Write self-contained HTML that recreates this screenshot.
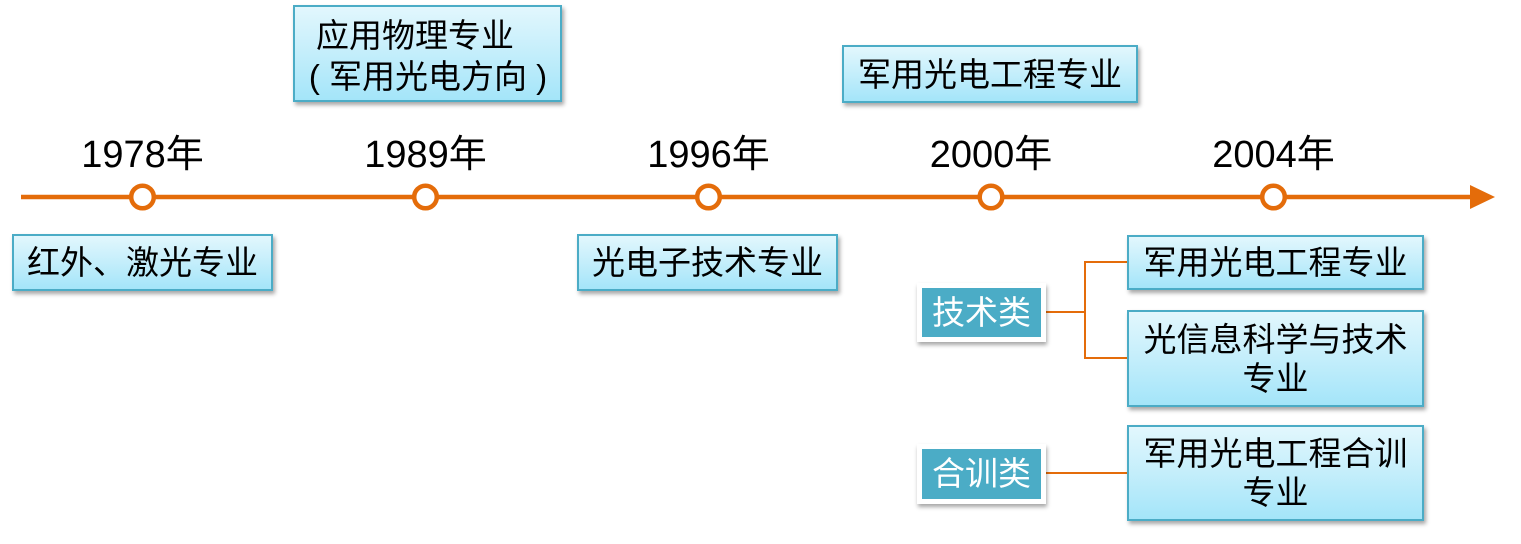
<!DOCTYPE html>
<html>
<head>
<meta charset="utf-8">
<style>
  html,body{margin:0;padding:0;background:#fff;}
  body{width:1521px;height:544px;position:relative;overflow:hidden;
    font-family:"Liberation Sans","Noto Sans CJK SC",sans-serif;color:#000;}
  svg{position:absolute;left:0;top:0;}
  .box{position:absolute;box-sizing:border-box;border:2px solid #4bacc6;
    background:linear-gradient(to bottom,#e2f7fd 0%,#c4eefb 50%,#a4e5f9 100%);
    box-shadow:2px 3px 4px rgba(0,0,0,0.35);
    display:flex;align-items:center;justify-content:center;text-align:center;
    font-size:33px;line-height:39px;}
  .yr{position:absolute;width:200px;text-align:center;font-size:38px;line-height:44px;}
  .tag{position:absolute;box-sizing:border-box;background:#4bacc6;border:5px solid #fff;
    box-shadow:1px 3px 4px rgba(0,0,0,0.35);color:#fff;font-size:33px;line-height:40px;
    display:flex;align-items:center;justify-content:center;}
  .ln{position:absolute;white-space:nowrap;font-size:33px;line-height:40px;text-align:center;}
</style>
</head>
<body>
<svg width="1521" height="544" viewBox="0 0 1521 544">
  <line x1="21" y1="197" x2="1472" y2="197" stroke="#e46c0a" stroke-width="4.5"/>
  <polygon points="1470,185 1495,197 1470,209" fill="#e46c0a"/>
  <g fill="#fff" stroke="#e46c0a" stroke-width="4.5">
    <circle cx="142.5" cy="197" r="11.3"/>
    <circle cx="425.5" cy="197" r="11.3"/>
    <circle cx="708.5" cy="197" r="11.3"/>
    <circle cx="991" cy="197" r="11.3"/>
    <circle cx="1273.5" cy="197" r="11.3"/>
  </g>
  <g stroke="#e46c0a" stroke-width="2" fill="none">
    <line x1="1044" y1="312" x2="1085" y2="312"/>
    <polyline points="1127,262 1085,262 1085,358 1127,358"/>
    <line x1="1044" y1="473" x2="1127" y2="473"/>
  </g>
</svg>

<div class="yr" style="left:42.5px;top:133px;">1978年</div>
<div class="yr" style="left:325.5px;top:133px;">1989年</div>
<div class="yr" style="left:608.5px;top:133px;">1996年</div>
<div class="yr" style="left:891px;top:133px;">2000年</div>
<div class="yr" style="left:1173.5px;top:133px;">2004年</div>

<div class="box" style="left:12px;top:234px;width:261px;height:57px;">红外、激光专业</div>

<div class="box" style="left:293px;top:5px;width:269px;height:97px;"></div>
<div class="ln" style="left:315px;top:16px;width:200px;">应用物理专业</div>
<div class="ln" style="left:308px;top:57px;width:240px;">( 军用光电方向 )</div>

<div class="box" style="left:577px;top:234px;width:261px;height:57px;">光电子技术专业</div>

<div class="box" style="left:842px;top:45px;width:296px;height:58px;">军用光电工程专业</div>

<div class="box" style="left:1127px;top:235px;width:297px;height:55px;">军用光电工程专业</div>
<div class="box" style="left:1127px;top:310px;width:297px;height:97px;">光信息科学与技术<br>专业</div>
<div class="box" style="left:1127px;top:425px;width:297px;height:96px;">军用光电工程合训<br>专业</div>

<div class="tag" style="left:917px;top:283px;width:129px;height:59px;">技术类</div>
<div class="tag" style="left:917px;top:444px;width:129px;height:60px;">合训类</div>
</body>
</html>
